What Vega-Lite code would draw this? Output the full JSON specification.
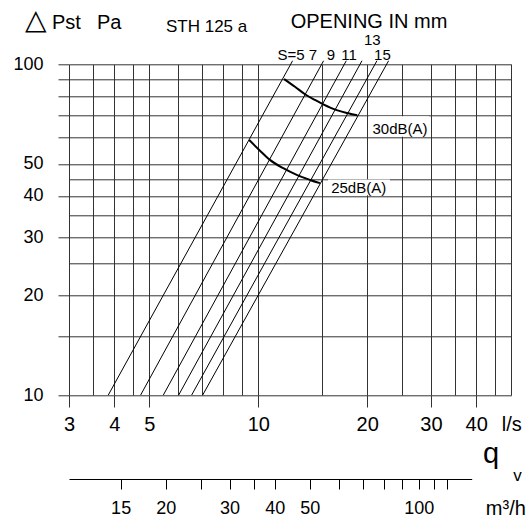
{
  "$schema": "https://vega.github.io/schema/vega-lite/v6.json",
  "width": 442.3,
  "height": 330.7,
  "autosize": {"type": "none"},
  "padding": {"left": 69, "top": 64.3, "right": 17.7, "bottom": 123},
  "background": "white",
  "config": {"view": {"stroke": null}, "font": "Liberation Sans"},
  "datasets": {
    "lines": [
      {"S": "5", "q": 3.852, "dp": 10}, {"S": "5", "q": 12.44, "dp": 102.5},
      {"S": "7", "q": 4.732, "dp": 10}, {"S": "7", "q": 15.15, "dp": 102.5},
      {"S": "9", "q": 5.467, "dp": 10}, {"S": "9", "q": 17.5, "dp": 102.5},
      {"S": "11", "q": 6.028, "dp": 10}, {"S": "11", "q": 19.34, "dp": 102.5},
      {"S": "13", "q": 6.546, "dp": 10}, {"S": "13", "q": 21.27, "dp": 102.5},
      {"S": "15", "q": 7.022, "dp": 10}, {"S": "15", "q": 22.91, "dp": 102.5}
    ],
    "noise": [
      {"level": "30dB(A)", "q": 11.78, "dp": 90.3},
      {"level": "30dB(A)", "q": 12.63, "dp": 85.5},
      {"level": "30dB(A)", "q": 13.46, "dp": 81.2},
      {"level": "30dB(A)", "q": 14.34, "dp": 78.0},
      {"level": "30dB(A)", "q": 15.12, "dp": 75.7},
      {"level": "30dB(A)", "q": 16.47, "dp": 72.7},
      {"level": "30dB(A)", "q": 17.73, "dp": 71.1},
      {"level": "30dB(A)", "q": 18.77, "dp": 70.1},
      {"level": "25dB(A)", "q": 9.44, "dp": 59.0},
      {"level": "25dB(A)", "q": 10.11, "dp": 54.8},
      {"level": "25dB(A)", "q": 10.77, "dp": 51.4},
      {"level": "25dB(A)", "q": 11.72, "dp": 48.5},
      {"level": "25dB(A)", "q": 12.77, "dp": 46.3},
      {"level": "25dB(A)", "q": 13.9, "dp": 44.7},
      {"level": "25dB(A)", "q": 14.8, "dp": 43.7}
    ],
    "boxes": [
      {"q": 20.22, "q2": 29.6, "dp": 60.4, "dp2": 69.6},
      {"q": 15.58, "q2": 23.11, "dp": 40.2, "dp2": 44.8}
    ],
    "labels": [
      {"t": "S=5", "q": 12.31, "dp": 106.9},
      {"t": "7", "q": 14.16, "dp": 106.9},
      {"t": "9", "q": 15.88, "dp": 106.9},
      {"t": "11", "q": 17.81, "dp": 106.9},
      {"t": "15", "q": 22.03, "dp": 106.9},
      {"t": "13", "q": 20.65, "dp": 118.2},
      {"t": "30dB(A)", "q": 24.63, "dp": 63.75},
      {"t": "25dB(A)", "q": 18.94, "dp": 42.17}
    ],
    "triangle": [{"t": "△", "q": 2.267, "dp": 128}],
    "header": [
      {"t": "Pst", "q": 2.692, "dp": 128},
      {"t": "Pa", "q": 3.584, "dp": 128},
      {"t": "OPENING IN mm", "q": 12.29, "dp": 129.2}
    ],
    "header2": [{"t": "STH 125 a", "q": 5.559, "dp": 125.5}],
    "qv": [{"t": "q", "q": 43.93, "dp": 6.23}],
    "v": [{"t": "v", "q": 52.0, "dp": 5.5}],
    "unit": [{"t": "m³/h", "q": 48.3, "dp": 4.34}],
    "m3h": [{"m": 15}, {"m": 20}, {"m": 25}, {"m": 30}, {"m": 35}, {"m": 40}, {"m": 50}, {"m": 60}, {"m": 70}, {"m": 80}, {"m": 90}, {"m": 100}, {"m": 110}, {"m": 120}]
  },
  "layer": [
    {
      "encoding": {
        "x": {
          "field": "q", "type": "quantitative",
          "scale": {"type": "log", "domain": [3, 50], "nice": false},
          "axis": {
            "values": [3, 3.5, 4, 4.5, 5, 6, 7, 8, 9, 10, 15, 20, 25, 30, 35, 40, 45, 50],
            "grid": true, "gridColor": "#333", "gridWidth": 1, "gridOpacity": 1,
            "domain": false,
            "tickSize": 12, "tickColor": "#333", "tickWidth": 1,
            "tickOpacity": {"condition": {"test": "indexof([3,4,5,10,20,30,40], datum.value) >= 0", "value": 1}, "value": 0},
            "labelExpr": "datum.value == 50 ? 'l/s' : (indexof([3,4,5,10,20,30,40], datum.value) >= 0 ? '' + datum.value : '')",
            "labelFontSize": 20, "labelPadding": 7, "labelColor": "black",
            "labelOverlap": false, "labelFlush": false, "title": null
          }
        },
        "y": {
          "field": "dp", "type": "quantitative",
          "scale": {"type": "log", "domain": [10, 100], "nice": false},
          "axis": {
            "values": [10, 15, 20, 25, 30, 35, 40, 45, 50, 60, 70, 80, 90, 100],
            "grid": true, "gridColor": "#333", "gridWidth": 1, "gridOpacity": 1,
            "domain": false,
            "tickSize": 11, "tickColor": "#333", "tickWidth": 1,
            "tickOpacity": {"condition": {"test": "indexof([25,35,45], datum.value) < 0", "value": 1}, "value": 0},
            "labelExpr": "indexof([10,20,30,40,50,100], datum.value) >= 0 ? '' + datum.value : ''",
            "labelFontSize": 18, "labelPadding": 15, "labelColor": "black",
            "labelOverlap": false, "labelFlush": false, "title": null
          }
        }
      },
      "layer": [
        {
          "data": {"name": "boxes"},
          "mark": {"type": "rect", "fill": "white", "stroke": null},
          "encoding": {"x2": {"field": "q2"}, "y2": {"field": "dp2"}}
        },
        {
          "data": {"name": "lines"},
          "mark": {"type": "line", "color": "black", "strokeWidth": 1},
          "encoding": {"detail": {"field": "S", "type": "nominal"}}
        },
        {
          "data": {"name": "noise"},
          "mark": {"type": "line", "color": "black", "strokeWidth": 2, "interpolate": "monotone"},
          "encoding": {"detail": {"field": "level", "type": "nominal"}}
        },
        {
          "data": {"name": "labels"},
          "mark": {"type": "text", "fontSize": 15, "align": "center", "baseline": "middle", "color": "black"},
          "encoding": {"text": {"field": "t"}}
        },
        {
          "data": {"name": "triangle"},
          "mark": {"type": "text", "fontSize": 28, "align": "left", "baseline": "alphabetic", "color": "black"},
          "encoding": {"text": {"field": "t"}}
        },
        {
          "data": {"name": "header"},
          "mark": {"type": "text", "fontSize": 20, "align": "left", "baseline": "alphabetic", "color": "black"},
          "encoding": {"text": {"field": "t"}}
        },
        {
          "data": {"name": "header2"},
          "mark": {"type": "text", "fontSize": 17, "align": "left", "baseline": "alphabetic", "color": "black"},
          "encoding": {"text": {"field": "t"}}
        },
        {
          "data": {"name": "qv"},
          "mark": {"type": "text", "fontSize": 29, "align": "center", "baseline": "alphabetic", "color": "black"},
          "encoding": {"text": {"field": "t"}}
        },
        {
          "data": {"name": "v"},
          "mark": {"type": "text", "fontSize": 17, "align": "center", "baseline": "alphabetic", "color": "black"},
          "encoding": {"text": {"field": "t"}}
        },
        {
          "data": {"name": "unit"},
          "mark": {"type": "text", "fontSize": 20, "align": "center", "baseline": "alphabetic", "color": "black"},
          "encoding": {"text": {"field": "t"}}
        }
      ]
    },
    {
      "data": {"name": "m3h"},
      "mark": {"type": "point", "opacity": 0},
      "encoding": {
        "x": {
          "field": "m", "type": "quantitative",
          "scale": {"type": "log", "domain": [10.8, 140], "range": [0, 402.7], "nice": false},
          "axis": {
            "orient": "bottom", "offset": 84,
            "values": [15, 20, 25, 30, 35, 40, 50, 60, 70, 80, 90, 100, 110, 120],
            "grid": false,
            "domain": true, "domainColor": "black", "domainWidth": 1,
            "tickSize": 10, "tickColor": "black", "tickWidth": 1,
            "labelExpr": "indexof([15,20,30,40,50,100], datum.value) >= 0 ? '' + datum.value : ''",
            "labelFontSize": 18, "labelPadding": 10, "labelColor": "black",
            "labelOverlap": false, "labelFlush": false, "title": null
          }
        }
      }
    }
  ],
  "resolve": {"scale": {"x": "independent"}}
}
